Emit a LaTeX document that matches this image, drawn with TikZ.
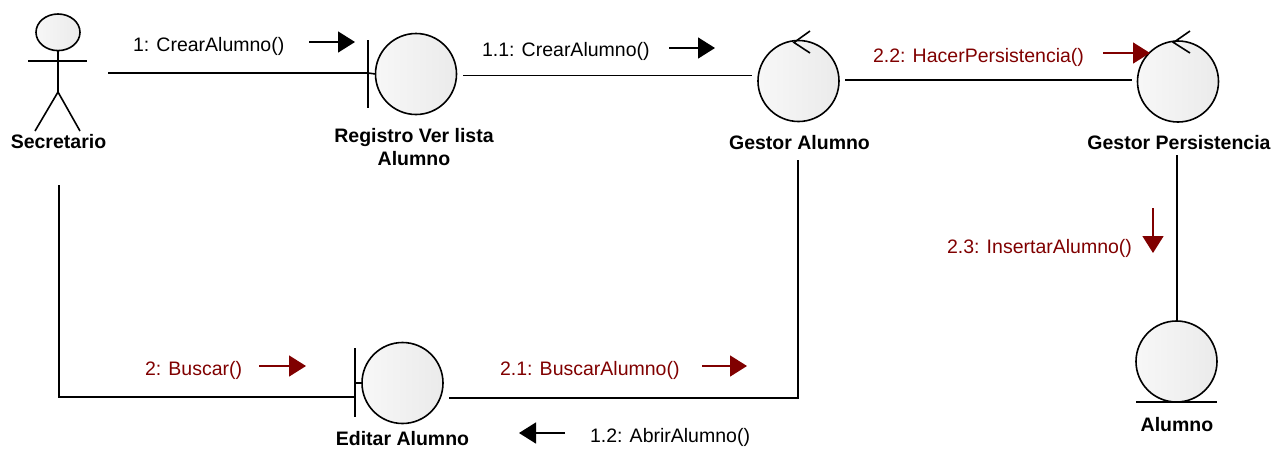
\documentclass[tikz,border=0pt]{standalone}
\usepackage{fontspec}
\setmainfont{Liberation Sans}
\usetikzlibrary{arrows.meta}
\definecolor{msgred}{RGB}{128,0,0}
\begin{document}
\begin{tikzpicture}[x=1pt,y=-1pt,
  every node/.style={inner sep=0pt,outer sep=0pt},
  lbl/.style={font=\fontsize{19.5}{23}\selectfont\bfseries,align=center,anchor=base},
  msg/.style={font=\fontsize{19.5}{23}\selectfont,anchor=base west},
  redmsg/.style={msg,text=msgred},
  conn/.style={line width=1.6pt,black},
  obj/.style={circle,draw=black,line width=1.6pt,minimum size=81pt,
    left color=gray!6,middle color=white,right color=gray!16},
  marrow/.style={line width=1.6pt,-{Triangle[length=17pt,width=21pt]}},
  redarrow/.style={marrow,draw=msgred,fill=msgred}
]
\useasboundingbox (0,0) rectangle (1278,456);

% ---- Actor Secretario
\draw[line width=1.6pt,left color=gray!6,middle color=white,right color=gray!16] (58,32.3) ellipse (22 and 18.3);
\draw[line width=1.6pt] (28,61) -- (87,61);
\draw[line width=1.6pt] (58,50.6) -- (58,92) -- (35,131);
\draw[line width=1.6pt] (58,92) -- (80,131);
\node[lbl] (sec) at (58.5,148) {Secretario};

% ---- Boundary: Registro Ver lista Alumno
\node[obj] (reg) at (416,74) {};
\draw[conn] (368,40) -- (368,108);
\coordinate (regbar) at (368,73);
\draw[conn] (regbar) -- (reg.west);
\node[lbl] (regl) at (414,142) {Registro Ver lista};
\node[lbl] (regl2) at (414,165) {Alumno};

% ---- Control: Gestor Alumno
\node[obj] (gal) at (798.5,81) {};
\draw[conn] (810,31) -- (794,42.5) -- (810,53);
\node[lbl] (gall) at (799.5,149) {Gestor Alumno};

% ---- Control: Gestor Persistencia
\node[obj] (gpe) at (1178,81.5) {};
\draw[conn] (1190,31) -- (1173.5,42.5) -- (1190,53);
\node[lbl] (gpel) at (1179,149) {Gestor Persistencia};

% ---- Entity: Alumno
\node[obj] (alu) at (1176.5,361.5) {};
\draw[conn] (1136,402) -- (1217,402);
\node[lbl] (alul) at (1177,431) {Alumno};

% ---- Boundary: Editar Alumno
\node[obj] (edi) at (402.5,383) {};
\draw[conn] (355,348) -- (355,417);
\coordinate (edibar) at (355,383);
\draw[conn] (edibar) -- (edi.west);
\node[lbl] (edil) at (402.5,445) {Editar Alumno};

% ---- Connectors
\coordinate (secR) at (108,73);
\draw[conn] (secR) -- (regbar);

\coordinate (regR) at (463,75.5);
\coordinate (galL) at (752,75.5);
\draw[conn] (regR) -- (galL);

\coordinate (galR) at (845,80);
\coordinate (gpeL) at (1132,80);
\draw[conn] (galR) -- (gpeL);

\coordinate (gpeB) at (1177,155);
\coordinate (aluT) at (1177,321);
\draw[conn] (gpeB) -- (aluT);

\coordinate (secB) at (59,185);
\coordinate (ediL) at (355,397);
\draw[conn] (secB) |- (ediL);

\coordinate (ediR) at (449,398);
\coordinate (galB) at (798,160);
\draw[conn] (ediR) -| (galB);

% ---- Messages
\node[msg] (m1) at (133,51) {1: CrearAlumno()};
\coordinate (m1a) at (309,42); \coordinate (m1b) at (355,42);
\draw[marrow] (m1a) -- (m1b);

\node[msg] (m11) at (482,56) {1.1: CrearAlumno()};
\coordinate (m11a) at (669,48); \coordinate (m11b) at (715,48);
\draw[marrow] (m11a) -- (m11b);

\node[redmsg] (m22) at (873,62) {2.2: HacerPersistencia()};
\coordinate (m22a) at (1103,53); \coordinate (m22b) at (1150,53);
\draw[redarrow] (m22a) -- (m22b);

\node[redmsg] (m23) at (947,253) {2.3: InsertarAlumno()};
\coordinate (m23a) at (1153,208); \coordinate (m23b) at (1153,253);
\draw[redarrow] (m23a) -- (m23b);

\node[redmsg] (m2) at (145,375) {2: Buscar()};
\coordinate (m2a) at (259,366); \coordinate (m2b) at (306,366);
\draw[redarrow] (m2a) -- (m2b);

\node[redmsg] (m21) at (500,375) {2.1: BuscarAlumno()};
\coordinate (m21a) at (702,366); \coordinate (m21b) at (747,366);
\draw[redarrow] (m21a) -- (m21b);

\node[msg] (m12) at (590,442) {1.2: AbrirAlumno()};
\coordinate (m12a) at (565,433); \coordinate (m12b) at (519,433);
\draw[marrow] (m12a) -- (m12b);
\end{tikzpicture}
\end{document}
